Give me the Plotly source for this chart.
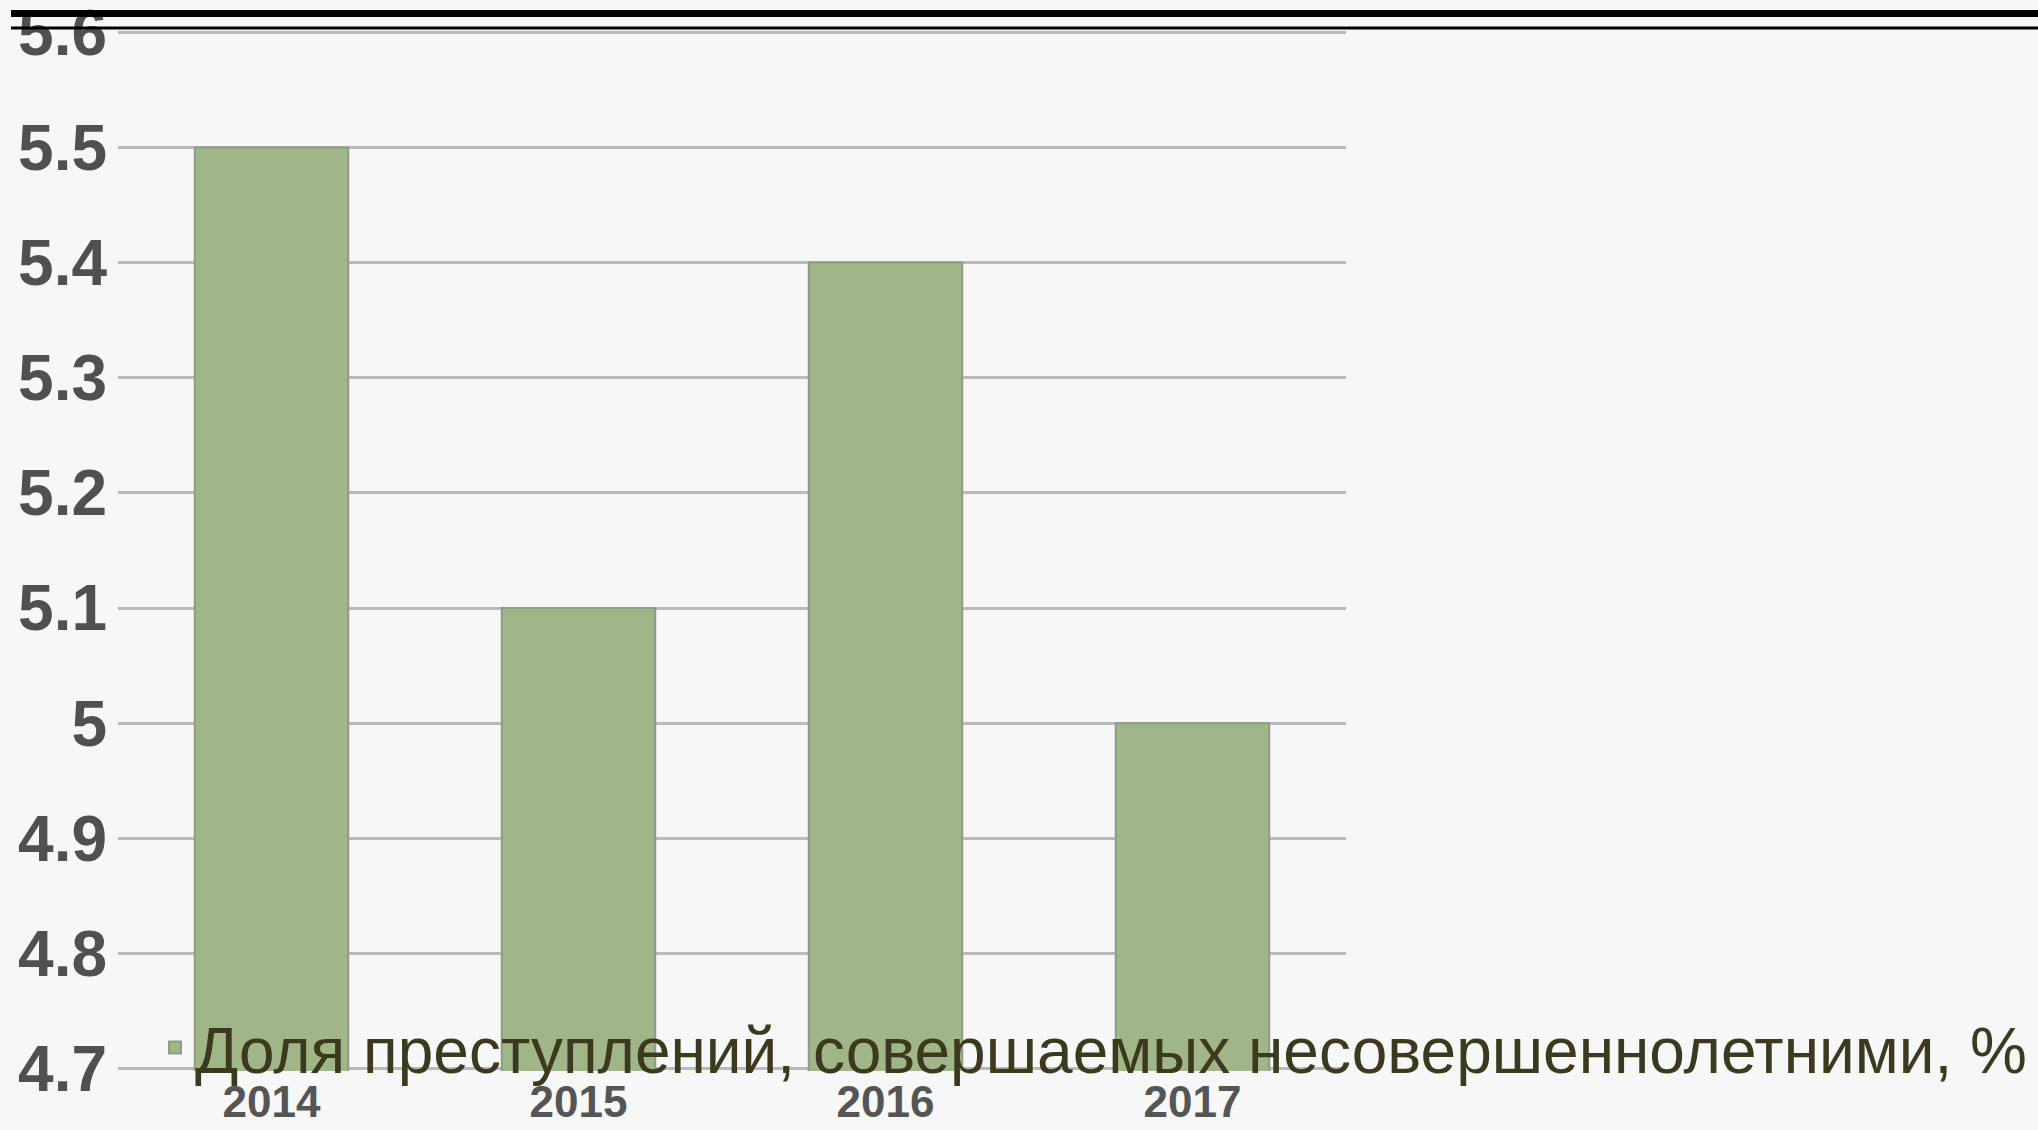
import plotly.graph_objects as go

years = ["2014", "2015", "2016", "2017"]
values = [5.5, 5.1, 5.4, 5.0]
series_name = "Доля преступлений, совершаемых несовершеннолетними, %"
y_ticks = [4.7, 4.8, 4.9, 5.0, 5.1, 5.2, 5.3, 5.4, 5.5, 5.6]
y_tick_labels = ["4.7", "4.8", "4.9", "5", "5.1", "5.2", "5.3", "5.4", "5.5", "5.6"]

W, H = 2038, 1130
ml, mr, mt, mb = 118, 692, 30, 59
ph = H - mt - mb
pw = W - ml - mr

def py(p):
    return (H - mb - p) / ph

def px(p):
    return (p - ml) / pw

fig = go.Figure()
fig.add_trace(go.Bar(
    x=years, y=values, name=series_name,
    marker=dict(color="#a0b688", line=dict(color="#8e9c84", width=2)),
    showlegend=True,
))

fig.update_layout(
    width=W, height=H,
    margin=dict(l=ml, r=mr, t=mt, b=mb, autoexpand=False),
    paper_bgcolor="#f7f7f7",
    plot_bgcolor="rgba(0,0,0,0)",
    bargap=0.5,
    font=dict(family="Liberation Sans, Arial, sans-serif"),
    xaxis=dict(
        type="category",
        showgrid=False, zeroline=False, showline=False,
        ticks="", ticklabelstandoff=1,
        tickfont=dict(size=44, color="#555555", family="Liberation Sans, Arial", weight="bold"),
    ),
    yaxis=dict(
        range=[4.698, 5.602],
        tickvals=y_ticks, ticktext=y_tick_labels,
        showgrid=True, gridcolor="#bababa", gridwidth=3,
        zeroline=False, showline=False, ticks="",
        ticklabelstandoff=10, ticklabeloverflow="allow",
        tickfont=dict(size=64, color="#505050", family="Liberation Sans, Arial", weight="bold"),
    ),
    legend=dict(
        x=px(155), xanchor="left",
        y=py(1048), yanchor="middle",
        bgcolor="rgba(0,0,0,0)",
        font=dict(size=64, color="#3b3a1f"),
        itemsizing="constant",
    ),
    shapes=[
        dict(type="rect", xref="paper", yref="paper",
             x0=px(11), x1=px(W + 5), y0=py(17), y1=py(10),
             fillcolor="black", line=dict(width=0), layer="above"),
        dict(type="line", xref="paper", yref="paper",
             x0=px(11), x1=px(W + 5), y0=py(28), y1=py(28),
             line=dict(color="black", width=3), layer="above"),
    ],
)

fig.write_html("out.html", config={"displayModeBar": False},
               post_script="document.body.style.margin='0';document.body.style.overflow='hidden';")
